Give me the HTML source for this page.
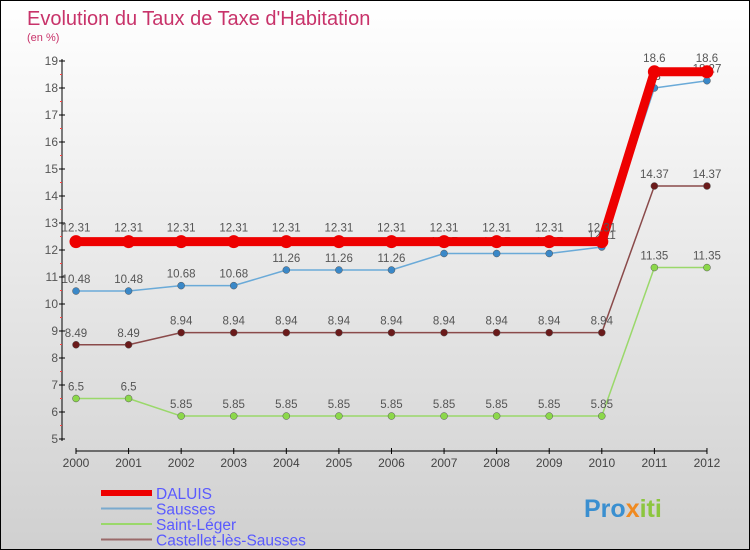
<!DOCTYPE html>
<html><head><meta charset="utf-8"><style>
body{margin:0}
#c{width:748px;height:548px;border:1px solid #000;background:linear-gradient(#fff,#d0d0d0);position:relative;overflow:hidden;font-family:"Liberation Sans",sans-serif}
</style></head><body>
<div id="c">
<svg id="s" width="748" height="548" xmlns="http://www.w3.org/2000/svg" style="position:absolute;left:0;top:0" font-family="Liberation Sans,sans-serif">
<text x="26" y="24" font-size="20" fill="#c8336a">Evolution du Taux de Taxe d'Habitation</text>
<text x="26" y="40" font-size="11" fill="#c8336a">(en %)</text>
<g id="axes"></g><g id="series"></g><g id="legend"></g>
<text x="583" y="516" font-size="25" font-weight="bold" fill="#3a8fd0">Pro<tspan fill="#f08a20">x</tspan><tspan fill="#8cc63f">iti</tspan></text>
</svg>
</div>
<script>
const years=[2000,2001,2002,2003,2004,2005,2006,2007,2008,2009,2010,2011,2012];
const daluis=[12.31,12.31,12.31,12.31,12.31,12.31,12.31,12.31,12.31,12.31,12.31,18.6,18.6];
const sausses=[10.48,10.48,10.68,10.68,11.26,11.26,11.26,11.87,11.87,11.87,12.11,18,18.27];
const stleger=[6.5,6.5,5.85,5.85,5.85,5.85,5.85,5.85,5.85,5.85,5.85,11.35,11.35];
const castellet=[8.49,8.49,8.94,8.94,8.94,8.94,8.94,8.94,8.94,8.94,8.94,14.37,14.37];
const yTicks=[5,6,7,8,9,10,11,12,13,14,15,16,17,18,19];
const NS="http://www.w3.org/2000/svg";
const xs=i=>75+i*52.58, ys=v=>438-(v-5)*27;
function mk(tag,at,par,txt){const e=document.createElementNS(NS,tag);for(const k in at)e.setAttribute(k,at[k]);if(txt!==undefined)e.textContent=txt;par.appendChild(e);return e;}
const ax=document.getElementById('axes');
let e=mk('line',{x1:61,y1:58,x2:61,y2:440,stroke:'#000'},ax);


e=mk('line',{x1:75,y1:450,x2:706,y2:450,stroke:'#000'},ax);


yTicks.forEach(v=>{mk('line',{x1:58,x2:64,y1:ys(v),y2:ys(v),stroke:'#000'},ax);
 if(v<19)mk('line',{x1:59,x2:61,y1:ys(v+0.5),y2:ys(v+0.5),stroke:'#f44'},ax);
 const t=mk('text',{x:57,y:ys(v)+4,'font-size':12,fill:'#555','text-anchor':'end'},ax,v);
 
 });
years.forEach((y,i)=>{mk('line',{x1:xs(i),x2:xs(i),y1:447,y2:453,stroke:'#000'},ax);
 const t=mk('text',{x:xs(i),y:466,'font-size':12,fill:'#444','text-anchor':'middle'},ax,y);
 
 });
const sg=document.getElementById('series');
function series(name,data,col,w,r,dot){
 const g=mk('g',{},sg);
 
 
 mk('polyline',{points:data.map((v,i)=>xs(i)+','+ys(v)).join(' '),fill:'none',stroke:col,'stroke-width':w,'stroke-linejoin':'round'},g);
 data.forEach((v,i)=>{const c=mk('circle',{cx:xs(i),cy:ys(v),r:r,fill:dot,stroke:w>3?'none':'#555','stroke-width':0.5},g);
  
  
  mk('text',{x:xs(i),y:ys(v)-(w>3?10:8),'font-size':11.5,fill:'#555','text-anchor':'middle'},g,v);});
}
series('saint-leger',stleger,'#9ad86a',1.5,3.5,'#8cd84a');
series('castellet',castellet,'#8a4a4a',1.5,3.5,'#6a1a1a');
series('sausses',sausses,'#6aaad8',1.5,3.5,'#3a88c8');
series('daluis',daluis,'#ee0000',9,6.5,'#ee0000');
const lg=document.getElementById('legend');
[['DALUIS','#ee0000',6],['Sausses','#7aaace',2],['Saint-Léger','#9ad86a',2],['Castellet-lès-Sausses','#9a6a6a',2]].forEach((d,i)=>{
 const y=492+i*15.5;
 const g=mk('g',{},lg);
 
 
 mk('line',{x1:100,x2:151,y1:y,y2:y,stroke:d[1],'stroke-width':d[2]},g);
 mk('text',{x:155,y:y+6,'font-size':15.5,fill:'#5a5aff'},g,d[0]);});
</script>
</body></html>
